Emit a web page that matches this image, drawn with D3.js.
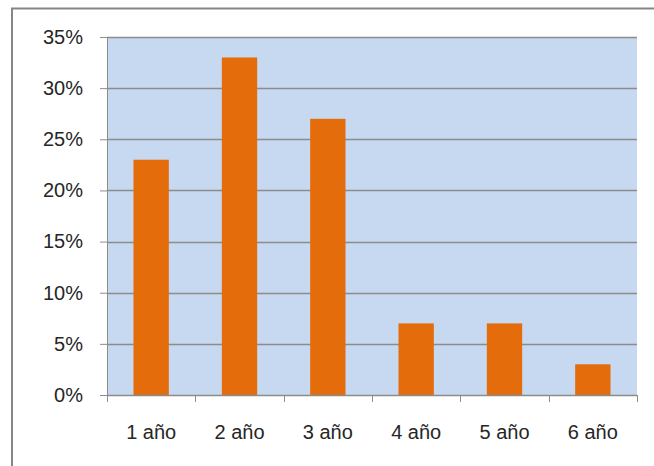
<!DOCTYPE html>
<html>
<head>
<meta charset="utf-8">
<script src="https://cdn.jsdelivr.net/npm/d3@7"></script>
<style>
  html, body { margin: 0; padding: 0; background: #fff; }
  svg { display: block; }
  text { font-family: "Liberation Sans", Arial, sans-serif; fill: #262626; }
</style>
</head>
<body>
<svg id="chart" width="654" height="466"></svg>
<script>
// Share of respondents by number of years
const categories = ["1 año", "2 año", "3 año", "4 año", "5 año", "6 año"];
const values = [0.23, 0.33, 0.27, 0.07, 0.07, 0.03];
const yTicks = [0, 0.05, 0.10, 0.15, 0.20, 0.25, 0.30, 0.35];

const svg = d3.select("#chart");
const plot = { left: 107, top: 37, right: 637, bottom: 395 };

// chart frame
svg.append("rect")
  .attr("x", 12).attr("y", 8.5)
  .attr("width", 660).attr("height", 480)
  .attr("fill", "#fff")
  .attr("stroke", "#868686").attr("stroke-width", 2);

const x = d3.scaleBand().domain(categories)
  .range([plot.left, plot.right]).paddingInner(0.6).paddingOuter(0.3);
const xOuter = d3.scaleBand().domain(categories).range([plot.left, plot.right]);
const y = d3.scaleLinear().domain([0, 0.35]).range([plot.bottom, plot.top]);

// plot background
svg.append("rect")
  .attr("x", plot.left).attr("y", plot.top)
  .attr("width", plot.right - plot.left).attr("height", plot.bottom - plot.top)
  .attr("fill", "#c6d9f1");

// y axis
const yAxis = d3.axisLeft(y).tickValues(yTicks)
  .tickFormat(d3.format(".0%")).tickSize(7).tickPadding(17);
const gy = svg.append("g").attr("transform", `translate(${plot.left},0)`).call(yAxis);
gy.select(".domain").attr("stroke", "#8c8c8c");
gy.selectAll(".tick line").attr("stroke", "#8c8c8c");
gy.selectAll(".tick text").attr("font-size", 20).attr("fill", "#262626")
  .attr("font-family", "Liberation Sans, Arial, sans-serif");

// horizontal gridlines
svg.append("g").selectAll("line").data(yTicks.filter(d => d > 0)).join("line")
  .attr("x1", plot.left).attr("x2", plot.right)
  .attr("y1", d => Math.round(y(d)) + 0.5).attr("y2", d => Math.round(y(d)) + 0.5)
  .attr("stroke", "#8c8c8c").attr("stroke-width", 1.5);

// bars
svg.append("g").selectAll("rect").data(values).join("rect")
  .attr("x", (d, i) => x(categories[i]))
  .attr("y", d => y(d))
  .attr("width", x.bandwidth())
  .attr("height", d => y(0) - y(d))
  .attr("fill", "#e46c0a");

// x axis with ticks at category boundaries
const gx = svg.append("g").attr("transform", `translate(0,${plot.bottom})`);
gx.append("line").attr("x1", plot.left).attr("x2", plot.right)
  .attr("y1", 0.5).attr("y2", 0.5).attr("stroke", "#8c8c8c").attr("stroke-width", 1.5);
const bounds = categories.map(c => xOuter(c)).concat([plot.right]);
gx.selectAll("line.tk").data(bounds).join("line").attr("class", "tk")
  .attr("x1", d => Math.round(d) + 0.5).attr("x2", d => Math.round(d) + 0.5)
  .attr("y1", 0).attr("y2", 7).attr("stroke", "#8c8c8c");
gx.selectAll("text").data(categories).join("text")
  .attr("x", d => xOuter(d) + xOuter.bandwidth() / 2)
  .attr("y", 44)
  .attr("text-anchor", "middle")
  .attr("font-size", 20)
  .text(d => d);
</script>
</body>
</html>
